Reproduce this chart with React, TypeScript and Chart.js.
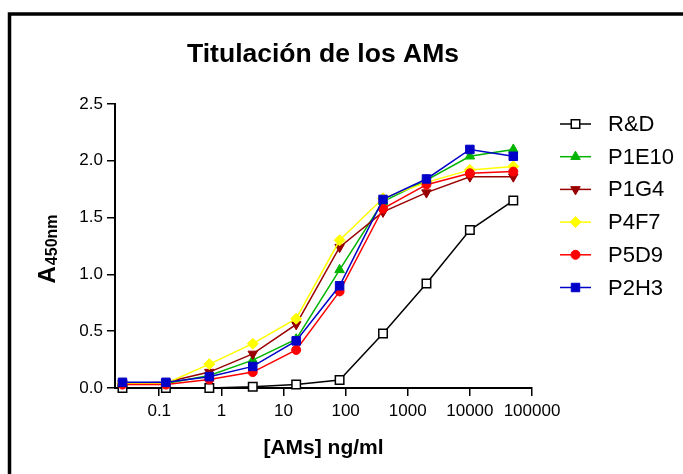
import React, { useEffect, useRef } from "react";
import { Chart, registerables } from "chart.js";

Chart.register(...registerables);

const concentrations = [0.0256, 0.128, 0.64, 3.2, 16, 80, 400, 2000, 10000, 50000];
const xTicks = [0.1, 1, 10, 100, 1000, 10000, 100000];
const yTicks = [0, 0.5, 1, 1.5, 2, 2.5];

const seriesNames = ["R&D", "P1E10", "P1G4", "P4F7", "P5D9", "P2H3"];
const rdValues = [0.0, 0.0, 0.0, 0.01, 0.03, 0.07, 0.48, 0.92, 1.39, 1.65];
const p1e10Values = [0.04, 0.04, 0.11, 0.245, 0.43, 1.04, 1.64, 1.83, 2.04, 2.1];
const p1g4Values = [0.04, 0.05, 0.14, 0.3, 0.56, 1.24, 1.55, 1.72, 1.86, 1.86];
const p4f7Values = [0.04, 0.04, 0.21, 0.39, 0.61, 1.3, 1.67, 1.81, 1.92, 1.95];
const p5d9Values = [0.03, 0.03, 0.075, 0.14, 0.335, 0.85, 1.58, 1.79, 1.89, 1.905];
const p2h3Values = [0.05, 0.05, 0.1, 0.19, 0.415, 0.9, 1.66, 1.84, 2.1, 2.04];

const seriesValues = [rdValues, p1e10Values, p1g4Values, p4f7Values, p5d9Values, p2h3Values];
const seriesColors = ["#000000", "#00b400", "#990000", "#ffff00", "#ff0000", "#0000c8"];
const seriesFill = ["#ffffff", "#00b400", "#990000", "#ffff00", "#ff0000", "#0000c8"];
const seriesStyles = ["rect", "triangle", "triangle", "rectRot", "circle", "rect"];
const seriesRotation = [0, 0, 180, 0, 0, 0];
const seriesRadius = [6, 5.5, 5.5, 5.5, 4.5, 6];

const titleText = "Titulación de los AMs";
const xTitleText = "[AMs] ng/ml";
const yTitleMain = "A";
const yTitleSub = "450nm";

const FONT = "'Liberation Sans', Arial, sans-serif";

function drawMarker(ctx: CanvasRenderingContext2D, style: string, rot: number, x: number, y: number, r: number) {
  ctx.beginPath();
  if (style === "rect") {
    const s = Math.SQRT1_2 * r;
    ctx.rect(x - s, y - s, 2 * s, 2 * s);
  } else if (style === "rectRot") {
    ctx.moveTo(x - r, y);
    ctx.lineTo(x, y - r);
    ctx.lineTo(x + r, y);
    ctx.lineTo(x, y + r);
    ctx.closePath();
  } else if (style === "triangle") {
    let rad = (rot * Math.PI) / 180;
    ctx.moveTo(x + Math.sin(rad) * r, y - Math.cos(rad) * r);
    rad += (2 * Math.PI) / 3;
    ctx.lineTo(x + Math.sin(rad) * r, y - Math.cos(rad) * r);
    rad += (2 * Math.PI) / 3;
    ctx.lineTo(x + Math.sin(rad) * r, y - Math.cos(rad) * r);
    ctx.closePath();
  } else {
    ctx.arc(x, y, r, 0, Math.PI * 2);
  }
  ctx.fill();
  ctx.stroke();
}

const decorPlugin = {
  id: "decor",
  afterDraw(chart: any) {
    const ctx: CanvasRenderingContext2D = chart.ctx;
    const area = chart.chartArea;
    ctx.save();
    // frame
    ctx.strokeStyle = "#000";
    ctx.lineWidth = 3.5;
    ctx.strokeRect(9.5, 14, 800, 600);
    // title
    ctx.fillStyle = "#000";
    ctx.font = `bold 26.5px ${FONT}`;
    ctx.textAlign = "center";
    ctx.textBaseline = "alphabetic";
    ctx.fillText(titleText, 323, 62);
    // x title
    ctx.font = `bold 21px ${FONT}`;
    ctx.fillText(xTitleText, (area.left + area.right) / 2, 454);
    // y title
    ctx.save();
    ctx.translate(55, 283.5);
    ctx.rotate(-Math.PI / 2);
    ctx.textAlign = "left";
    ctx.font = `bold 24px ${FONT}`;
    ctx.fillText(yTitleMain, 0, 0);
    const w = ctx.measureText(yTitleMain).width;
    ctx.font = `bold 16px ${FONT}`;
    ctx.fillText(yTitleSub, w + 1, 1.5);
    ctx.restore();
    // legend
    chart.data.datasets.forEach((ds: any, i: number) => {
      const y = 124 + i * 32.7;
      ctx.strokeStyle = ds.borderColor;
      ctx.lineWidth = 1.5;
      ctx.beginPath();
      ctx.moveTo(560, y);
      ctx.lineTo(591, y);
      ctx.stroke();
      ctx.fillStyle = ds.pointBackgroundColor;
      ctx.strokeStyle = ds.pointBorderColor;
      ctx.lineWidth = ds.pointBorderWidth;
      drawMarker(ctx, ds.pointStyle, ds.pointRotation, 575.5, y, ds.pointRadius);
      ctx.fillStyle = "#000";
      ctx.font = `22px ${FONT}`;
      ctx.textAlign = "left";
      ctx.textBaseline = "middle";
      ctx.fillText(ds.label, 608, y + 1);
    });
    ctx.restore();
  },
};

export default function App() {
  const canvasRef = useRef<HTMLCanvasElement | null>(null);

  useEffect(() => {
    if (!canvasRef.current) return;
    const datasets = seriesNames.map((name, i) => ({
      label: name,
      data: concentrations.map((c, j) => ({ x: c, y: seriesValues[i][j] })),
      borderColor: seriesColors[i],
      backgroundColor: seriesFill[i],
      pointBackgroundColor: seriesFill[i],
      pointBorderColor: seriesColors[i],
      pointBorderWidth: i === 0 ? 1.5 : 1,
      pointStyle: seriesStyles[i],
      pointRotation: seriesRotation[i],
      pointRadius: seriesRadius[i],
      borderWidth: 1.5,
      tension: 0,
      clip: false as any,
      order: seriesNames.length - i,
    }));
    const chart = new Chart(canvasRef.current, {
      type: "line",
      data: { datasets },
      options: {
        animation: false,
        responsive: false,
        maintainAspectRatio: false,
        layout: { padding: { left: 0, right: 151, top: 104, bottom: 0 } },
        plugins: {
          legend: { display: false },
          title: { display: false },
          tooltip: { enabled: false },
        },
        scales: {
          x: {
            type: "logarithmic",
            min: 0.0194,
            max: 100000,
            afterBuildTicks: (scale: any) => {
              scale.ticks = xTicks.map((v) => ({ value: v, major: true }));
            },
            afterFit: (scale: any) => {
              scale.height = 86;
            },
            ticks: {
              autoSkip: false,
              maxRotation: 0,
              color: "#000",
              padding: 5,
              font: { family: FONT, size: 17 },
              callback: (v: any) => String(v),
            },
            grid: { display: true, drawOnChartArea: false, drawTicks: true, tickLength: 8, color: "#000", lineWidth: 1.5 },
            border: { display: true, color: "#000", width: 2 },
          },
          y: {
            type: "linear",
            min: 0,
            max: 2.5,
            afterBuildTicks: (scale: any) => {
              scale.ticks = yTicks.map((v) => ({ value: v }));
            },
            afterFit: (scale: any) => {
              scale.width = 115;
            },
            ticks: {
              color: "#000",
              padding: 4,
              font: { family: FONT, size: 17 },
              callback: (v: any) => Number(v).toFixed(1),
            },
            grid: { display: true, drawOnChartArea: false, drawTicks: true, tickLength: 8, color: "#000", lineWidth: 1.5 },
            border: { display: true, color: "#000", width: 2 },
          },
        },
      },
      plugins: [decorPlugin],
    });
    return () => chart.destroy();
  }, []);

  return (
    <div style={{ position: "fixed", left: 0, top: 0, width: 683, height: 474, background: "#fff" }}>
      <canvas ref={canvasRef} width={683} height={474} style={{ width: 683, height: 474, display: "block" }} />
    </div>
  );
}
